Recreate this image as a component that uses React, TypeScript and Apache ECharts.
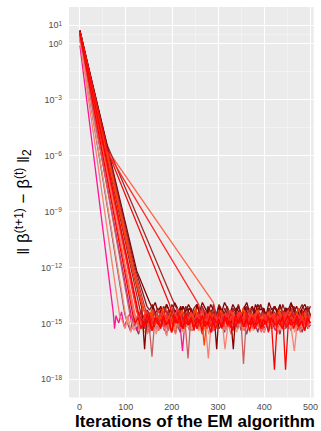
import React, { useEffect, useRef } from "react";
import * as echarts from "echarts";

// ---------- axis breaks ----------
const xTicks = [0, 100, 200, 300, 400, 500];
const xMinor = [50, 150, 250, 350, 450];
const yTicks = [1, 0, -3, -6, -9, -12, -15, -18]; // log10 of ||.||
const yMinor = [0.5, -1.5, -4.5, -7.5, -10.5, -13.5, -16.5];

const FLOOR_STEP = 6; // iterations between sampled floor points
const LAST_ITER = 500;

// ---------- series (values are log10 of the norm) ----------
// descent key points [iteration, log10 value]; floor: values sampled every FLOOR_STEP iterations from start
const pinkDescent = [[1, -0.1], [73, -14.4], [76, -15.3]];
const pinkStart = 79;
const pinkFloor = [-14.6, -15.0, -14.4, -15.2, -14.8, -14.5, -15.3, -14.7, -14.9, -14.3, -15.1, -14.6, -15.4, -14.8, -14.5, -15.0, -14.4, -14.9, -15.2, -14.6, -14.8, -15.1, -14.5, -14.9, -16.5, -14.7, -15.0, -14.4, -15.2, -14.8, -14.6, -15.3, -14.5, -14.9, -15.0, -14.4, -14.8, -15.2, -14.6, -14.9, -14.5, -15.1, -14.7, -15.0, -14.4, -14.8, -15.3, -14.6, -14.9, -14.5, -15.0, -14.7, -15.2, -14.4, -14.8, -15.1, -14.6, -14.9, -14.5, -15.0, -14.7, -14.4, -15.2, -14.8, -14.6, -15.0, -14.5, -14.9, -15.1, -14.7, -14.8];

const purpleDescent = [[1, 0.3], [98, -14.5]];
const purpleStart = 104;
const purpleFloor = [-15.0, -15.4, -14.8, -15.2, -15.6, -14.9, -15.3, -15.0, -15.5, -14.7, -15.2, -15.4, -14.9, -15.1, -15.6, -15.0, -14.8, -15.3, -15.1, -15.5, -14.9, -15.2, -15.0, -15.4, -14.8, -15.3, -15.1, -15.6, -14.9, -15.2, -15.0, -15.4, -14.7, -15.3, -15.1, -15.5, -14.9, -15.2, -15.0, -15.3, -14.8, -15.4, -15.1, -15.6, -14.9, -15.2, -15.0, -15.5, -14.8, -15.3, -15.1, -15.4, -14.9, -15.2, -15.0, -15.6, -14.8, -15.3, -15.1, -15.4, -14.9, -15.2, -15.0, -15.5, -14.8, -15.3, -15.1];

const violetDescent = [[1, 0.2], [112, -14.6]];
const violetStart = 118;
const violetFloor = [-15.0, -15.4, -14.8, -15.2, -14.9, -15.5, -15.1, -14.7, -15.3, -15.0, -14.9, -15.4, -15.1, -14.8, -15.2, -15.5, -14.9, -15.0, -15.3, -14.7, -15.1, -15.4, -14.9, -15.2, -15.0, -14.8, -15.3, -15.1, -15.5, -14.9, -15.0, -15.2, -14.8, -15.4, -15.1, -14.9, -15.3, -15.0, -14.7, -15.2, -15.4, -14.9, -15.1, -15.0, -15.3, -14.8, -15.2, -15.5, -14.9, -15.1, -15.0, -15.4, -14.8, -15.2, -15.0, -14.9, -15.3, -15.1, -14.8, -15.4, -15.0, -15.2, -14.9, -15.1];

const salmonDescent = [[1, 0.2], [87, -14.6]];
const salmonStart = 93;
const salmonFloor = [-14.9, -15.3, -14.6, -15.5, -15.0, -14.7, -15.4, -15.1, -14.8, -15.6, -15.0, -14.5, -15.2, -15.4, -14.9, -15.1, -15.7, -14.8, -15.0, -15.3, -14.6, -15.2, -15.5, -14.9, -15.0, -15.4, -14.7, -15.1, -15.3, -14.8, -15.2, -16.9, -15.0, -14.7, -15.3, -15.1, -14.9, -16.4, -15.2, -14.8, -15.4, -15.0, -14.6, -15.3, -15.1, -14.9, -15.5, -15.0, -14.7, -15.2, -15.4, -14.8, -15.1, -15.3, -14.9, -15.0, -15.6, -14.7, -15.2, -15.0, -14.8, -15.4, -16.5, -15.1, -14.9, -15.3, -15.0, -14.8];

const darksalmonDescent = [[1, 0.3], [100, -14.6]];
const darksalmonStart = 106;
const darksalmonFloor = [-15.1, -14.8, -15.4, -15.0, -14.7, -15.3, -15.5, -14.9, -15.2, -14.8, -15.6, -15.0, -14.9, -15.3, -15.1, -14.7, -15.4, -15.0, -15.2, -14.8, -15.5, -15.1, -14.9, -15.3, -15.0, -14.8, -15.4, -15.2, -14.9, -15.6, -15.0, -14.7, -15.3, -15.1, -14.9, -15.4, -15.0, -15.2, -14.8, -15.5, -15.1, -14.9, -15.3, -15.0, -14.7, -15.4, -15.2, -14.9, -15.1, -15.5, -14.8, -15.3, -15.0, -15.2, -14.9, -15.4, -15.1, -14.8, -15.3, -15.0, -15.5, -14.9, -15.2, -15.0, -14.8, -15.3];

const coralDescent = [[1, 0.4], [118, -14.5]];
const coralStart = 124;
const coralFloor = [-14.9, -15.3, -14.7, -15.1, -15.5, -14.8, -15.2, -14.9, -15.4, -14.6, -15.0, -15.3, -14.8, -15.1, -15.6, -14.9, -15.2, -14.7, -15.0, -15.4, -14.8, -15.1, -15.3, -14.9, -15.5, -15.0, -14.7, -15.2, -15.4, -14.8, -15.1, -14.9, -15.3, -15.0, -15.6, -14.8, -15.2, -14.9, -15.1, -15.4, -14.7, -15.0, -15.3, -14.9, -15.2, -15.5, -14.8, -15.1, -15.0, -15.3, -14.7, -15.2, -14.9, -15.4, -15.0, -14.8, -15.3, -15.1, -14.9, -15.5, -15.0, -14.8, -15.2];

const coral1Descent = [[1, 0.5], [120, -14.5]];
const coral1Start = 126;
const coral1Floor = [-14.8, -15.2, -14.6, -15.0, -14.9, -15.4, -14.7, -15.1, -14.5, -15.0, -15.3, -14.8, -14.6, -15.2, -14.9, -15.0, -14.7, -15.3, -14.5, -14.9, -15.1, -14.8, -15.4, -14.6, -15.0, -14.9, -15.2, -14.7, -14.5, -15.1, -14.9, -15.3, -14.6, -15.0, -14.8, -15.2, -14.7, -14.9, -15.4, -14.6, -15.0, -14.8, -15.1, -14.5, -15.2, -14.9, -14.7, -15.0, -15.3, -14.8, -14.6, -15.1, -14.9, -15.2, -14.7, -15.0, -14.6, -15.3, -14.8, -14.9, -15.1, -14.7, -15.0];

const indianDescent = [[1, 0.4], [109, -14.5]];
const indianStart = 115;
const indianFloor = [-14.7, -15.1, -14.5, -15.3, -14.9, -14.6, -15.2, -16.8, -14.8, -15.0, -14.4, -15.2, -14.9, -15.4, -14.6, -15.0, -14.8, -15.3, -14.5, -15.1, -16.9, -14.7, -15.0, -14.6, -15.2, -14.9, -14.5, -15.3, -14.8, -15.0, -14.6, -15.1, -14.9, -14.4, -15.2, -14.7, -15.0, -14.8, -15.3, -14.6, -17.2, -14.9, -15.1, -14.5, -15.0, -14.8, -15.2, -14.6, -14.9, -15.3, -14.7, -15.0, -14.5, -15.1, -14.8, -15.2, -14.6, -14.9, -15.0, -14.7, -15.3, -14.8, -15.0, -14.6, -15.1];

const tomatoDescent = [[1, 0.5], [55, -5.5], [290, -13.9]];
const tomatoStart = 296;
const tomatoFloor = [-14.6, -15.0, -14.4, -14.8, -15.2, -14.7, -14.5, -15.0, -14.6, -14.9, -14.3, -15.1, -14.7, -14.9, -14.5, -15.2, -14.6, -14.8, -14.4, -15.0, -14.7, -14.9, -14.5, -15.1, -14.6, -14.8, -14.4, -15.0, -14.7, -14.5, -14.9, -15.1, -14.6, -14.8, -14.5];

const brownDescent = [[1, 0.6], [60, -5.45], [206, -14.0]];
const brownStart = 212;
const brownFloor = [-14.3, -14.7, -14.1, -14.5, -14.9, -14.2, -14.6, -14.4, -14.8, -14.1, -14.5, -14.3, -14.7, -14.0, -14.6, -14.4, -14.8, -14.2, -14.5, -14.7, -14.3, -14.6, -14.1, -14.5, -14.9, -14.2, -14.4, -14.7, -14.3, -14.6, -14.0, -14.5, -14.8, -14.2, -14.6, -14.4, -14.7, -14.1, -14.5, -14.3, -14.8, -14.2, -14.6, -14.4, -14.9, -14.3, -14.5, -14.1, -14.6];

const darkred2Descent = [[1, 0.7], [124, -12.2], [152, -13.9]];
const darkred2Start = 158;
const darkred2Floor = [-14.2, -13.9, -14.4, -14.1, -14.6, -14.0, -14.3, -14.5, -13.9, -14.2, -14.6, -14.1, -14.4, -14.0, -14.3, -14.7, -14.1, -14.4, -13.9, -14.2, -14.5, -14.0, -14.3, -14.6, -14.1, -14.4, -13.9, -14.2, -14.5, -14.0, -14.3, -14.1, -14.6, -14.2, -13.9, -14.4, -14.1, -14.5, -14.0, -14.3, -14.2, -14.6, -13.9, -14.3, -14.1, -14.4, -14.0, -14.5, -14.2, -14.3, -13.9, -14.4, -14.1, -14.6, -14.2, -14.0, -14.4, -14.1];

const darkred3Descent = [[1, 0.7], [120, -12.0], [146, -14.1]];
const darkred3Start = 152;
const darkred3Floor = [-14.3, -14.0, -14.5, -14.2, -14.7, -14.1, -14.4, -14.6, -14.0, -14.3, -14.5, -14.2, -14.8, -14.1, -14.4, -14.6, -14.2, -14.0, -14.5, -14.3, -14.7, -14.1, -14.4, -14.2, -14.6, -14.0, -14.3, -14.5, -14.1, -14.7, -14.2, -14.4, -14.0, -14.6, -14.3, -14.1, -14.5, -14.2, -14.8, -14.3, -14.0, -14.4, -14.6, -14.2, -14.5, -14.1, -14.3, -14.7, -14.0, -14.4, -14.2, -14.6, -14.1, -14.5, -14.3, -14.0, -14.4, -14.2, -14.6];

const darkredDescent = [[1, 0.7], [115, -12.1], [135, -14.2]];
const darkredStart = 141;
const darkredFloor = [-16.4, -14.3, -14.7, -14.1, -14.5, -14.9, -14.2, -14.6, -14.0, -14.4, -14.8, -14.3, -14.6, -14.1, -14.5, -14.9, -14.2, -14.4, -14.7, -14.0, -14.5, -14.3, -14.8, -14.2, -14.6, -14.4, -16.4, -14.1, -14.5, -14.7, -14.3, -14.6, -16.4, -14.2, -14.4, -14.8, -14.1, -14.5, -14.3, -14.7, -14.0, -14.4, -14.6, -14.2, -14.8, -14.3, -14.5, -14.1, -14.6, -14.4, -14.7, -14.2, -14.5, -14.0, -14.4, -14.8, -14.3, -14.6, -14.2, -14.5];

const firebrickDescent = [[1, 0.6], [132, -14.4]];
const firebrickStart = 138;
const firebrickFloor = [-14.6, -15.0, -14.4, -14.8, -15.2, -14.5, -14.9, -14.7, -15.1, -14.3, -14.8, -15.0, -14.6, -14.9, -14.4, -15.2, -14.7, -14.5, -15.0, -14.8, -14.4, -15.1, -14.6, -14.9, -14.3, -14.8, -15.0, -14.5, -15.2, -14.7, -14.9, -14.4, -14.8, -15.1, -14.6, -14.5, -15.0, -14.7, -14.3, -14.9, -15.1, -14.6, -14.8, -14.4, -15.0, -14.7, -14.5, -15.2, -14.8, -14.6, -14.9, -14.4, -15.0, -14.7, -14.5, -15.1, -14.8, -14.6, -14.9, -14.3, -14.8];

const brown3Descent = [[1, 0.6], [118, -12.0], [142, -14.2]];
const brown3Start = 148;
const brown3Floor = [-14.5, -14.9, -14.3, -14.7, -15.1, -14.4, -14.8, -14.6, -15.0, -14.2, -14.7, -14.9, -14.4, -14.8, -14.5, -15.1, -14.6, -14.3, -14.9, -14.7, -15.0, -14.4, -14.8, -14.6, -14.2, -14.9, -14.5, -15.0, -14.7, -14.3, -14.8, -14.6, -15.1, -14.4, -14.7, -14.9, -14.5, -14.2, -14.8, -14.6, -15.0, -14.4, -14.7, -14.9, -14.3, -14.8, -14.5, -15.0, -14.6, -14.4, -14.9, -14.7, -14.2, -14.8, -14.5, -15.0, -14.6, -14.3, -14.7];

const firebrick3Descent = [[1, 0.6], [126, -14.4]];
const firebrick3Start = 132;
const firebrick3Floor = [-14.5, -14.9, -14.3, -14.7, -15.0, -14.4, -14.8, -14.6, -15.1, -14.2, -14.7, -14.9, -14.5, -14.8, -14.3, -15.0, -14.6, -14.4, -14.9, -14.7, -15.1, -14.5, -14.8, -14.3, -14.6, -15.0, -14.4, -14.9, -14.7, -14.5, -15.1, -14.6, -14.8, -14.3, -14.9, -14.5, -15.0, -14.7, -14.4, -14.8, -14.6, -15.1, -14.3, -14.7, -14.9, -14.5, -14.8, -14.4, -15.0, -14.6, -14.7, -14.3, -14.9, -14.5, -15.1, -14.7, -14.4, -14.8, -14.6, -15.0, -14.5, -14.8];

const brown2Descent = [[1, 0.6], [116, -12.0], [140, -14.3]];
const brown2Start = 146;
const brown2Floor = [-14.4, -14.8, -14.6, -15.0, -14.3, -14.7, -14.9, -14.5, -15.1, -14.6, -14.8, -14.2, -14.7, -15.0, -14.5, -14.9, -14.4, -14.8, -15.2, -14.6, -14.3, -14.9, -14.7, -15.0, -14.5, -14.8, -14.4, -15.1, -14.6, -14.9, -14.3, -14.7, -15.0, -14.5, -14.8, -14.6, -15.2, -14.4, -14.9, -14.7, -14.3, -14.8, -15.0, -14.6, -14.5, -14.9, -14.7, -15.1, -14.4, -14.8, -14.6, -14.3, -14.9, -15.0, -14.5, -14.7, -14.8, -14.4, -15.1, -14.6];

const orangeDescent = [[1, 0.6], [114, -12.0], [138, -14.3]];
const orangeStart = 144;
const orangeFloor = [-14.5, -14.9, -14.3, -15.1, -14.6, -14.8, -14.2, -15.0, -14.7, -14.4, -15.2, -14.6, -14.9, -14.3, -14.8, -15.0, -14.5, -14.7, -14.2, -15.1, -14.6, -16.2, -14.8, -14.4, -14.9, -14.6, -15.0, -14.3, -14.7, -14.5, -15.1, -14.4, -14.8, -14.6, -14.9, -14.2, -14.7, -15.0, -14.5, -14.8, -14.3, -14.9, -14.6, -15.1, -14.4, -14.7, -14.5, -15.0, -14.3, -14.8, -14.6, -14.9, -14.4, -15.0, -14.7, -14.2, -14.8, -14.5, -14.9, -14.6];

const redADescent = [[1, 0.6], [60, -5.7], [195, -14.0]];
const redAStart = 201;
const redAFloor = [-14.6, -15.0, -14.4, -15.2, -14.8, -14.5, -15.1, -14.7, -14.9, -15.3, -14.6, -15.0, -14.5, -14.8, -15.2, -14.6, -14.9, -14.4, -15.1, -14.7, -15.0, -14.5, -14.9, -15.2, -14.6, -14.8, -15.0, -14.4, -15.1, -14.7, -14.9, -14.5, -15.3, -14.8, -14.6, -15.0, -14.7, -15.1, -14.5, -14.9, -14.6, -15.2, -14.8, -14.5, -15.0, -14.7, -14.9, -14.4, -15.1, -14.8];

const redBDescent = [[1, 0.6], [48, -5.3], [258, -14.0]];
const redBStart = 264;
const redBFloor = [-14.7, -15.1, -14.5, -14.9, -15.3, -14.6, -15.0, -14.8, -15.2, -14.5, -14.9, -15.1, -14.6, -15.0, -14.4, -14.9, -15.2, -14.7, -15.0, -14.5, -15.1, -14.8, -15.3, -14.6, -14.9, -15.0, -14.5, -15.2, -14.7, -14.9, -14.4, -15.1, -14.8, -15.0, -14.6, -15.3, -14.7, -14.9, -15.1, -14.6];

const redCDescent = [[1, 0.5], [124, -14.4]];
const redCStart = 130;
const redCFloor = [-14.7, -15.1, -14.5, -14.9, -15.3, -14.6, -15.0, -14.8, -14.4, -15.2, -14.7, -14.9, -15.1, -14.5, -15.0, -14.8, -15.3, -14.6, -14.9, -14.7, -15.2, -14.5, -15.0, -14.8, -15.1, -14.6, -14.9, -15.3, -14.7, -15.0, -14.5, -14.8, -15.2, -14.6, -15.0, -14.9, -14.4, -15.1, -14.7, -15.0, -14.6, -15.2, -14.8, -14.9, -15.3, -14.5, -15.0, -14.7, -15.1, -14.8, -14.6, -15.2, -14.9, -14.5, -15.0, -14.7, -15.1, -14.8, -14.6, -15.0, -14.9, -15.2];

const red2Descent = [[1, 0.5], [115, -14.5]];
const red2Start = 121;
const red2Floor = [-15.0, -14.7, -15.3, -14.9, -15.1, -14.6, -15.4, -14.8, -15.0, -15.2, -14.7, -15.1, -14.9, -15.5, -14.8, -15.0, -14.6, -15.3, -14.9, -15.1, -14.7, -15.2, -15.0, -14.8, -15.4, -14.9, -15.1, -14.6, -15.0, -15.3, -14.8, -15.2, -14.9, -14.7, -15.1, -15.4, -14.8, -15.0, -14.6, -15.2, -14.9, -15.1, -14.7, -15.3, -15.0, -14.8, -15.2, -14.9, -15.5, -14.7, -15.0, -15.1, -14.8, -15.3, -14.9, -14.6, -15.1, -15.0, -14.8, -15.2, -14.9, -15.4, -14.7, -15.0];

const redDescent = [[1, 0.6], [128, -14.5]];
const redStart = 134;
const redFloor = [-14.8, -15.2, -14.5, -15.0, -15.4, -14.7, -14.9, -15.3, -14.6, -15.1, -14.8, -15.5, -14.6, -15.0, -14.9, -15.3, -14.5, -15.1, -14.8, -15.4, -14.7, -15.0, -14.6, -15.2, -14.9, -15.5, -14.7, -15.0, -14.8, -15.3, -14.6, -15.1, -14.9, -15.4, -14.5, -15.0, -14.8, -15.2, -14.7, -15.4, -14.9, -15.1, -14.6, -15.3, -14.8, -15.0, -14.7, -15.2, -17.5, -14.9, -15.1, -14.6, -17.5, -15.0, -14.8, -15.3, -14.6, -15.1, -14.9, -15.4, -14.7, -15.0];

const runs = [
  { color: "#FF1493", descent: pinkDescent, start: pinkStart, floor: pinkFloor },
  { color: "#8B3A62", descent: purpleDescent, start: purpleStart, floor: purpleFloor },
  { color: "#C71585", descent: violetDescent, start: violetStart, floor: violetFloor },
  { color: "#FA8072", descent: salmonDescent, start: salmonStart, floor: salmonFloor },
  { color: "#E9967A", descent: darksalmonDescent, start: darksalmonStart, floor: darksalmonFloor },
  { color: "#EE6A50", descent: coralDescent, start: coralStart, floor: coralFloor },
  { color: "#FF7256", descent: coral1Descent, start: coral1Start, floor: coral1Floor },
  { color: "#CD5C5C", descent: indianDescent, start: indianStart, floor: indianFloor },
  { color: "#FF6347", descent: tomatoDescent, start: tomatoStart, floor: tomatoFloor },
  { color: "#A52A2A", descent: brownDescent, start: brownStart, floor: brownFloor },
  { color: "#7F0000", descent: darkred2Descent, start: darkred2Start, floor: darkred2Floor },
  { color: "#8B1A1A", descent: darkred3Descent, start: darkred3Start, floor: darkred3Floor },
  { color: "#8B0000", descent: darkredDescent, start: darkredStart, floor: darkredFloor },
  { color: "#B22222", descent: firebrickDescent, start: firebrickStart, floor: firebrickFloor },
  { color: "#CD3333", descent: brown3Descent, start: brown3Start, floor: brown3Floor },
  { color: "#CD2626", descent: firebrick3Descent, start: firebrick3Start, floor: firebrick3Floor },
  { color: "#EE3B3B", descent: brown2Descent, start: brown2Start, floor: brown2Floor },
  { color: "#FF4500", descent: orangeDescent, start: orangeStart, floor: orangeFloor },
  { color: "#EE1111", descent: redADescent, start: redAStart, floor: redAFloor },
  { color: "#FF2A2A", descent: redBDescent, start: redBStart, floor: redBFloor },
  { color: "#FF3030", descent: redCDescent, start: redCStart, floor: redCFloor },
  { color: "#FF0000", descent: red2Descent, start: red2Start, floor: red2Floor },
  { color: "#FF0000", descent: redDescent, start: redStart, floor: redFloor },
];

const FONT = "'Liberation Sans', Arial, Helvetica, sans-serif";
const supText = (n: number) => (n < 0 ? "\u2212" + Math.abs(n) : String(n));

export default function App() {
  const ref = useRef<HTMLDivElement>(null);
  useEffect(() => {
    if (!ref.current) return;
    const chart = echarts.init(ref.current, undefined, { renderer: "svg" });

    const lineSeries = runs.map((r) => ({
      type: "line",
      data: [
        ...r.descent,
        ...r.floor
          .map((v, i) => [r.start + FLOOR_STEP * i, v])
          .filter((p) => p[0] <= LAST_ITER),
      ],
      showSymbol: false,
      symbol: "none",
      lineStyle: { color: r.color, width: 1.3 },
      itemStyle: { color: r.color },
      z: 3,
      silent: true,
    }));

    const gridSeries = {
      type: "line",
      data: [],
      silent: true,
      z: 1,
      markLine: {
        silent: true,
        z: 1,
        symbol: ["none", "none"],
        label: { show: false },
        emphasis: { disabled: true },
        lineStyle: { color: "#FFFFFF", type: "solid", width: 1.1 },
        data: [
          ...yMinor.map((v) => ({ yAxis: v, lineStyle: { width: 0.55, color: "#F7F7F7", type: "solid" } })),
          ...xMinor.map((v) => ({ xAxis: v, lineStyle: { width: 0.55, color: "#F7F7F7", type: "solid" } })),
          ...yTicks.map((v) => ({ yAxis: v, lineStyle: { width: 1.1, color: "#FFFFFF", type: "solid" } })),
          ...xTicks.map((v) => ({ xAxis: v, lineStyle: { width: 1.1, color: "#FFFFFF", type: "solid" } })),
        ],
      },
    };

    chart.setOption({
      animation: false,
      backgroundColor: "#FFFFFF",
      grid: {
        left: 69,
        right: 6,
        top: 7,
        bottom: 33.4,
        show: true,
        backgroundColor: "#EBEBEB",
        borderWidth: 0,
        containLabel: false,
      },
      xAxis: {
        type: "value",
        min: -22.6,
        max: 507,
        axisLine: { show: false },
        splitLine: { show: false },
        axisTick: { show: true, length: 3, lineStyle: { color: "#333333", width: 1 }, customValues: xTicks },
        axisLabel: {
          customValues: xTicks,
          color: "#4D4D4D",
          fontSize: 9,
          fontFamily: FONT,
          margin: 5,
        },
      },
      yAxis: {
        type: "value",
        min: -19,
        max: 1.96,
        axisLine: { show: false },
        splitLine: { show: false },
        axisTick: { show: true, length: 3, lineStyle: { color: "#333333", width: 1 }, customValues: yTicks },
        axisLabel: {
          customValues: yTicks,
          margin: 7,
          formatter: (v: number) => `{b|10}{s|${supText(Math.round(v))}}`,
          rich: {
            b: { fontSize: 9, color: "#4D4D4D", fontFamily: FONT, lineHeight: 10, verticalAlign: "bottom" },
            s: { fontSize: 6.5, color: "#4D4D4D", fontFamily: FONT, lineHeight: 7, padding: [0, 0, 5, 0], verticalAlign: "top" },
          },
        },
      },
      graphic: [
        {
          type: "text",
          x: 195,
          y: 421,
          silent: true,
          style: {
            text: "Iterations of the EM algorithm",
            fill: "#000000",
            font: `bold 17px ${FONT}`,
            align: "center",
            verticalAlign: "middle",
          },
        },
        {
          type: "text",
          x: 23,
          y: 202,
          rotation: Math.PI / 2,
          silent: true,
          style: {
            text: "{b|\u2016 \u03B2}{s|(t+1)}{b| \u2212 \u03B2}{s|(t)}{b| \u2016}{u|2}",
            align: "center",
            verticalAlign: "middle",
            rich: {
              b: { fontSize: 17, fontFamily: FONT, fill: "#000000", lineHeight: 20, verticalAlign: "middle" },
              s: { fontSize: 12, fontFamily: FONT, fill: "#000000", lineHeight: 13, padding: [0, 0, 13, 0], verticalAlign: "top" },
              u: { fontSize: 12, fontFamily: FONT, fill: "#000000", lineHeight: 13, padding: [13, 0, 0, 0], verticalAlign: "bottom" },
            },
          },
        },
      ],
      series: [gridSeries, ...lineSeries],
    });

    return () => chart.dispose();
  }, []);

  return (
    <div
      ref={ref}
      style={{ position: "fixed", left: 0, top: 0, width: 321, height: 431 }}
    />
  );
}
